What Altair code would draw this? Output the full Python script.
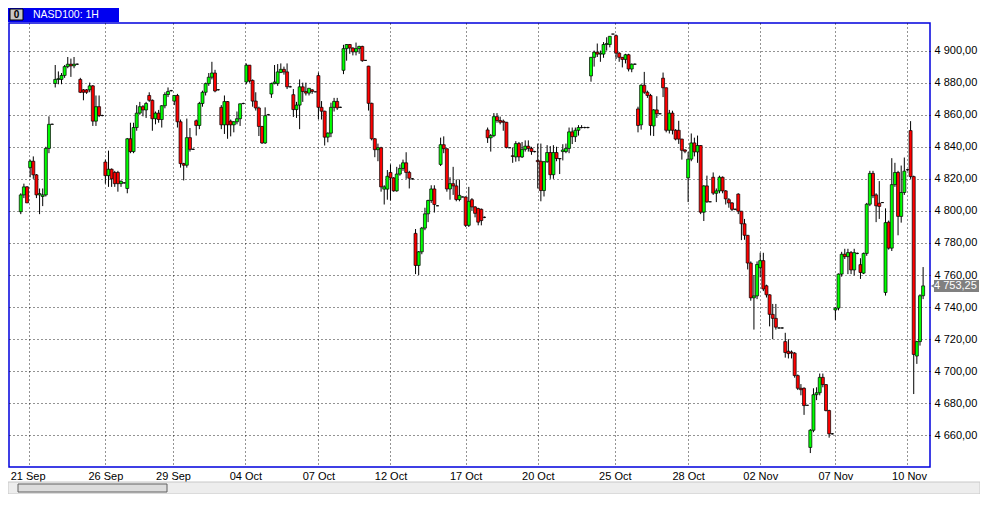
import altair as alt
import pandas as pd

# ---------------- data ----------------
open_ = [4799.5,4810,4815,4827,4831,4822.5,4810,4809,4810,4839,4854,4879.5,4882,4882,4884.5,4890,4891.5,4890.5,4891.5,4882,
 4875.5,4875.5,4875.5,4878,4856,4865,4859.5,4830.5,4822,4826,4824,4824,4817,4817.5,4814,4845,4837,4852,4861,4865,
 4863,4872,4869,4857.5,4861,4857,4865.6,4872.6,4875,4868.5,4872,4855.6,4829.5,4828.5,4845.7,4838.4,4856.2,4853.3,4867,4874,
 4879.4,4883.4,4886,4875.6,4864.6,4853.7,4868.2,4856,4853.7,4855.6,4857.5,4867,4880.4,4890.9,4881.4,4868.5,4864.2,4852.7,4842.4,4860,
 4872.9,4879.4,4879.4,4886.3,4888.3,4886.7,4877.4,4872.5,4863.2,4866,4877.4,4874.5,4873.5,4875.5,4874.3,4884.4,4864.6,4862.2,4846,4848.5,
 4864.6,4868.3,4864.6,4887.7,4901.2,4903.8,4901.6,4899.2,4901.2,4902.6,4893.9,4890.3,4867.1,4845,4838.2,4839.4,4813.6,4813.6,4824,4820.6,
 4812.5,4823,4826.5,4830,4824,4820,4786,4766,4774.5,4789.3,4798.2,4806.5,4813.7,4803.2,4829,4841.3,4838.8,4813.7,4817,4815.6,
 4807.1,4808.7,4808.7,4791,4807,4802.5,4801.5,4801,4796,4850.5,4845.6,4847,4858.8,4856.4,4856,4855.3,4839.4,4834.4,4833.7,4842,
 4833.7,4838.4,4840.4,4839,4837,4831.5,4831,4812.7,4830.7,4836.4,4822.6,4836.4,4832.7,4837,4837,4839,4849.3,4846.3,4850.3,4852,
 4852,4852,4884.2,4895.8,4899,4897.8,4897.8,4903.8,4903.8,4910.3,4909.3,4898.4,4895.8,4894.5,4897.4,4888.5,4891.5,4863.6,4853.7,4878.4,
 4874,4872,4853,4863,4860.6,4882.8,4876.8,4850.3,4861,4850.3,4850.3,4844.8,4838,4820.6,4832.3,4842.4,4836.8,4840.8,4799.2,4815.6,
 4805.7,4821,4811,4812.5,4821,4812.5,4807,4805,4801,4810.5,4799.8,4792,4784.8,4767.5,4745.8,4747,4764.6,4769,4753.3,4747.7,
 4735.5,4733,4727,4727,4718.5,4712.5,4712,4711.3,4697.3,4689.4,4689.4,4678.8,4652.5,4663.2,4685.4,4686.6,4696.2,4691.7,4675.5,4661,
 4738.2,4739.4,4760.6,4773,4771.5,4774,4763.2,4773.5,4766.5,4761.2,4773.5,4804.2,4823.4,4810,4804.8,4805.2,4749.1,4793,4776.8,4816.4,
 4824,4796.6,4811.5,4825.7,4850.1,4821.4,4709.5,4718.5,4747.1]
high = [4811,4817,4815.5,4832,4834,4823,4814,4814,4840,4859,4854.5,4891,4887,4886,4891,4896,4895,4896,4892,4883,
 4876,4876,4880,4878.5,4872,4872,4860,4832,4837.6,4826.5,4825,4825,4819,4818,4845.5,4855,4855,4866,4868,4866,
 4868,4874,4869.5,4862,4863,4866,4874,4877,4875.5,4872,4873,4857,4830,4857.6,4851.7,4839,4857,4868,4875,4880,
 4886,4893,4888,4876,4866,4872,4868.5,4857,4856,4862,4867,4867.5,4892,4891,4882,4874,4865,4853,4864.6,4860.5,
 4880,4891,4891.6,4892,4890,4892,4878,4876,4868,4882,4880,4880,4876.6,4876,4874.5,4886.3,4868.5,4862.5,4849,4867.5,
 4870.5,4870.5,4865,4903.6,4904,4904,4902,4905,4903,4903,4894,4890.5,4867.5,4845.5,4842,4840,4816,4825.5,4829,4821,
 4827.5,4829,4832,4836.6,4825,4820.5,4788.7,4775,4790,4802,4807,4816,4816,4803.5,4845.7,4846.5,4839,4821,4827.5,4819.6,
 4819.6,4809,4809,4815,4808,4803,4802,4801.5,4796.5,4852,4848,4861,4861,4858.8,4857,4855.5,4839.6,4839.6,4843.5,4843,
 4843,4844,4844,4840,4837.5,4842,4842,4831,4841,4840.4,4841,4840,4833,4841.6,4842,4852,4852,4852,4853.5,4853.5,
 4852.5,4852.5,4896,4900,4904.4,4900,4905.3,4908.3,4909,4910.5,4910,4899,4896,4898,4898,4892,4892,4865,4879,4886.7,
 4875,4873,4863.5,4871.5,4861,4886.3,4877,4863,4862.5,4851,4856.2,4845,4838.5,4836.8,4848.3,4845.7,4847,4841,4816,4822,
 4806,4824,4814,4822,4821.5,4813,4808,4805.5,4801.5,4811,4800,4795,4785,4768.5,4760,4768.5,4773.9,4773.9,4754,4748,
 4742,4742,4727.5,4727.5,4724,4720,4713,4712,4698,4692,4690,4679,4664,4689.4,4690,4698.6,4698.6,4692,4676,4661.5,
 4740,4761,4774.5,4776.4,4776.4,4775,4776.4,4774,4770.5,4774,4805,4825,4825,4811,4818.6,4805.5,4801.6,4794,4832.9,4830,
 4825,4828.3,4833.3,4826,4856,4822,4719,4748,4765]
low = [4798,4808,4805,4821,4820,4808,4798,4803,4809,4836,4854,4877,4879,4879,4883,4889,4883.6,4889,4891,4873.5,
 4869,4873,4874,4853,4853,4858.5,4859,4817,4815,4815,4815,4812,4815,4817,4811,4836,4836,4850,4860,4859,
 4858,4868,4850,4854,4855,4852,4864,4871,4874.5,4866,4852,4827,4819,4827,4837,4838,4847,4851,4865,4872,
 4878,4882,4874,4875,4851,4848,4845,4846.5,4849,4854,4853,4866.5,4879,4880,4865,4862.6,4846.7,4841.8,4841.8,4859.5,
 4870.5,4879,4878,4886,4885,4876,4877,4858.6,4858,4851,4868,4872,4872,4873,4874,4857.2,4857,4840.8,4842.8,4846,
 4862,4863,4864.2,4885.3,4893.7,4898,4897,4897,4898,4893,4893.5,4862.6,4844,4833.5,4831,4812,4804,4807,4806.5,4812,
 4812,4822,4825,4820,4814,4819.5,4760.6,4760,4773,4788,4793,4805,4799,4803,4828,4836,4812,4807,4810,4806,
 4806,4808.5,4790,4790,4800,4796,4791,4791,4795.5,4842.4,4837,4846,4855,4854,4850,4839,4839.2,4830,4830.7,4831,
 4833,4837,4837,4835,4836.5,4814,4806,4809,4830,4820,4820,4831,4823,4831.5,4836,4836,4841.7,4843,4847,4851.5,
 4851.5,4851.5,4880.6,4890,4896,4893,4895.5,4900,4902,4910,4894.7,4893,4889.5,4892,4887,4886.5,4891,4849,4850.7,4873,
 4870.5,4847,4846.7,4858,4860.2,4871,4849,4848.3,4847.7,4844,4841.8,4832,4836,4805.5,4831,4834,4830,4798,4793.7,4805,
 4805.4,4810,4805.5,4811,4811,4804,4802,4799.8,4800.5,4798,4781.8,4782,4763.5,4744,4726,4745,4758.6,4750,4746,4728,
 4720,4726,4726.5,4726.5,4708.5,4708,4708,4696,4688.3,4685,4672.8,4678.5,4649,4662,4682,4685,4690,4675,4658.6,4660.5,
 4732,4738,4759,4770,4760.6,4760.6,4759.6,4773,4757.6,4760.6,4772,4803,4808,4793,4795,4805,4747.2,4775.9,4775,4815,
 4784.8,4792.7,4810,4825,4820,4685.8,4704.6,4716,4745]
close = [4810,4815,4805,4831,4822.5,4810,4810.8,4810,4839,4854,4854,4882,4882.5,4884.5,4890,4891.5,4890.5,4891.5,4891.5,4874,
 4874,4874,4878,4856,4865,4859.5,4859.5,4822,4826,4820,4817,4817,4818.5,4817.5,4845,4837,4852,4861,4865,4863,
 4867,4869,4857.5,4861,4857,4865.6,4872.6,4874.5,4875,4872,4855.6,4829.5,4828.5,4845.7,4838.4,4838.4,4853.3,4867,4874,4879.4,
 4883.4,4886,4874.8,4875.6,4853.7,4868.2,4853.7,4853.7,4855.6,4857.5,4866.8,4867,4890.9,4881,4868.5,4864.2,4852.7,4842.4,4859.4,4860,
 4879.4,4880.4,4886.7,4888.3,4886.7,4877.4,4877.4,4863.2,4866,4877.4,4874.5,4873.5,4876.5,4874.5,4874.3,4864.6,4862.2,4846,4848.5,4864.6,
 4868.3,4864.2,4864.6,4901.2,4903.8,4901.6,4899.2,4901.2,4902.6,4893.7,4893.9,4867.1,4845,4838.2,4839.4,4815,4815,4821.6,4820.6,4812.5,
 4823,4826.5,4830,4824,4820.4,4820,4766,4774.5,4789.3,4798.2,4806.5,4813.7,4804,4803.2,4841.3,4838.8,4813.7,4817,4815.6,4807.1,
 4809.7,4808.7,4791,4806,4802.5,4798.5,4793,4794,4796,4845.6,4847,4858.8,4856.4,4855.3,4855.3,4839.6,4839.4,4834,4842,4833.7,
 4838.4,4840.4,4839,4837,4837,4830.7,4812.7,4830.7,4836.4,4822.6,4836.4,4832.7,4832.5,4838,4839,4849.3,4846.3,4850.3,4852,4852,
 4852,4852,4895.8,4899,4897.8,4898.4,4903.8,4904.4,4908.9,4910.3,4898.4,4895.8,4894.5,4897.4,4888.5,4891.5,4891.5,4853.3,4878.4,4874,
 4872,4853.3,4863,4860.6,4860.6,4876.8,4850.3,4861,4850.3,4844.8,4844.8,4837.8,4837.2,4832.3,4842.4,4836.8,4840.8,4799.2,4815.6,4805.7,
 4805.7,4811.1,4812.5,4821,4812.5,4807.5,4805,4801,4801,4799.8,4792,4784.8,4767.5,4745.8,4747,4766.6,4769,4751.3,4747.7,4735.5,
 4733,4727.5,4727,4727,4711.7,4711,4711.3,4697.3,4689.4,4688.5,4678.6,4678.8,4663.2,4685.4,4686.6,4696.2,4691.7,4675.5,4661,4661,
 4739.4,4760.6,4773,4771.5,4774,4763.2,4774,4773.5,4761.6,4773.5,4804.2,4823.4,4809.5,4803.2,4802.8,4805.2,4792.7,4776.8,4816.4,4824,
 4796.6,4811.5,4824.8,4825.7,4821.4,4710.5,4718.5,4747.1,4753.25]

# date labels and the bar position of each one's grid line
tick_labels = ["21 Sep", "26 Sep", "29 Sep", "04 Oct", "07 Oct", "12 Oct", "17 Oct",
               "20 Oct", "25 Oct", "28 Oct", "02 Nov", "07 Nov", "10 Nov"]
tick_pos = [2.7, 27, 48.6, 71.7, 95, 118, 142, 165, 189.6, 213, 236, 260, 283]
price_ticks = [4660, 4680, 4700, 4720, 4740, 4760, 4780, 4800, 4820, 4840, 4860, 4880, 4900]
last_label = "4 753,25"
title_text = "NASD100: 1H"

# ---------------- chart ----------------
W, H = 921, 444
RP = 50
FONT = "Liberation Sans"

n = len(close)
df = pd.DataFrame({"i": list(range(n)), "o": open_, "h": high, "l": low, "c": close})
df["dir"] = ["up" if c >= o else "down" for o, c in zip(open_, close)]

xs = alt.Scale(domain=[-2.16, 288.6], nice=False, zero=False)
ys = alt.Scale(domain=[4640.3, 4917.2], nice=False, zero=False)

xlabel_expr = ("[" + ",".join("'%s'" % t for t in tick_labels) + "][indexof(["
               + ",".join(str(p) for p in tick_pos) + "], datum.value)]")

x_axis = alt.Axis(values=tick_pos, labelExpr=xlabel_expr, grid=True, gridDash=[1, 3],
                  gridColor="#000000", gridWidth=1, gridOpacity=0.85, domain=False, ticks=False,
                  labelFlush=30, labelFlushOffset=19, labelFont=FONT, labelFontSize=11,
                  labelColor="#000000", labelPadding=3, title=None, labelOverlap=False,
                  orient="bottom")
y_axis = alt.Axis(values=price_ticks,
                  labelExpr="replace(replace(format(datum.value, ',.2f'), ',', ' '), '.', ',')",
                  grid=True, gridDash=[1, 3], gridColor="#000000", gridWidth=1, gridOpacity=0.85,
                  domain=False, ticks=False, labelFont=FONT, labelFontSize=11,
                  labelColor="#000000", labelPadding=4, title=None, orient="right",
                  labelOverlap=False)

X = alt.X("i:Q", scale=xs, axis=x_axis)

wicks = alt.Chart(df).mark_rule(color="#000000", strokeWidth=1).encode(
    x=X, y=alt.Y("l:Q", scale=ys, axis=y_axis), y2="h:Q")

bodies = alt.Chart(df).mark_bar(size=3.0, stroke="#000000", strokeWidth=0.7).encode(
    x=X, y=alt.Y("o:Q", scale=ys, axis=y_axis), y2="c:Q",
    color=alt.Color("dir:N", scale=alt.Scale(domain=["up", "down"], range=["#00ff00", "#ff0000"]),
                    legend=None))

# last price tag
last_df = pd.DataFrame({"c": [close[-1]], "lab": [last_label]})
tag_rect = alt.Chart(last_df).mark_rect(color="#808080", yOffset=-6, y2Offset=6).encode(
    x=alt.value(W + 4), x2=alt.value(W + RP - 1), y=alt.Y("c:Q", scale=ys, axis=y_axis), y2="c:Q")
tag_arrow = alt.Chart(last_df).mark_point(shape="triangle-left", filled=True, color="#808080",
                                           opacity=1, size=55).encode(
    x=alt.value(W + 4), y=alt.Y("c:Q", scale=ys, axis=y_axis))
tag_text = alt.Chart(last_df).mark_text(color="#ffffff", font=FONT, fontSize=11, align="left",
                                         baseline="middle").encode(
    x=alt.value(W + 4), y=alt.Y("c:Q", scale=ys, axis=y_axis), text="lab:N")

# title tab
tdf = pd.DataFrame({"t": [title_text], "z": ["0"]})
tab = alt.Chart(tdf).mark_rect(color="#0000f0").encode(
    x=alt.value(-1), x2=alt.value(110), y=alt.value(-15), y2=alt.value(-1))
icon = alt.Chart(tdf).mark_rect(fill="#c8c8c8", stroke="#000000", strokeWidth=1).encode(
    x=alt.value(1), x2=alt.value(14), y=alt.value(-14), y2=alt.value(-3))
icon_txt = alt.Chart(tdf).mark_text(font=FONT, fontSize=10, fontWeight="bold", color="#000000",
                                     baseline="middle").encode(
    x=alt.value(7.5), y=alt.value(-8.5), text="z:N")
tab_txt = alt.Chart(tdf).mark_text(font=FONT, fontSize=10.5, color="#ffffff", align="left",
                                    baseline="middle").encode(
    x=alt.value(24), y=alt.value(-8), text="t:N")

# scrollbar strip
sbar = alt.Chart(tdf).mark_rect(fill="#ededed", stroke="#c8c8c8", strokeWidth=1).encode(
    x=alt.value(-1), x2=alt.value(W + RP), y=alt.value(H + 15), y2=alt.value(H + 27))
slider = alt.Chart(tdf).mark_rect(fill="#dcdcdc", stroke="#606060", strokeWidth=1).encode(
    x=alt.value(9), x2=alt.value(158), y=alt.value(H + 17), y2=alt.value(H + 25))

chart = alt.layer(
    wicks, bodies, tag_rect, tag_arrow, tag_text, tab, icon, icon_txt, tab_txt, sbar, slider
).properties(
    width=W, height=H,
    padding={"left": 1, "top": 15, "right": RP, "bottom": 27},
    autosize=alt.AutoSizeParams(type="none"),
    background="#ffffff",
).configure_view(
    stroke="#0000dd", strokeWidth=1.5
)

chart.save("out.html", embed_options={"renderer": "svg", "actions": False})
